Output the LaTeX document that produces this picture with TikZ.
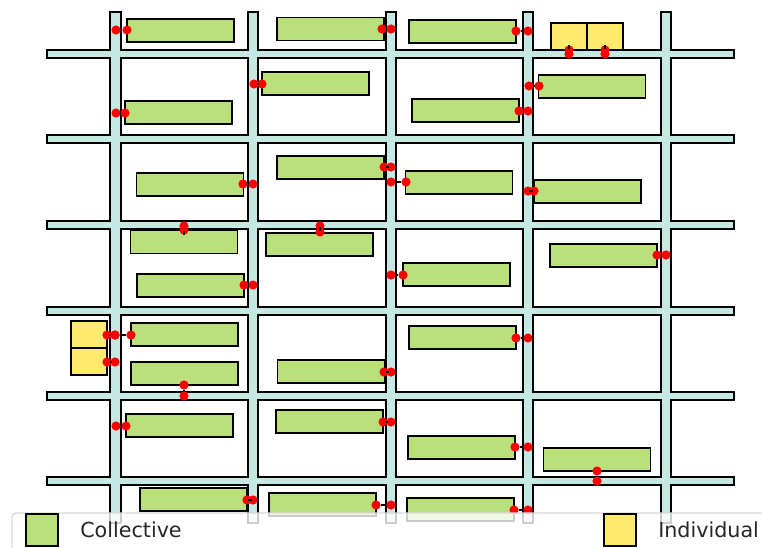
\documentclass[tikz,border=0pt]{standalone}
\usepackage{fontspec}
\setmainfont{DejaVu Sans}
\usetikzlibrary{positioning}
\definecolor{roadteal}{RGB}{197,232,226}
\definecolor{blockgreen}{RGB}{185,224,122}
\definecolor{blockyellow}{RGB}{255,233,110}
\definecolor{doorred}{RGB}{255,0,0}
\begin{document}
\begin{tikzpicture}[
  x=0.75pt, y=-0.75pt,
  roadedge/.style={draw=black, line width=3pt},
  roadfill/.style={fill=roadteal},
  collective/.style={draw=black, fill=blockgreen, line width=1.4pt, outer sep=0pt,
                     inner sep=0pt, minimum width=80.25pt, minimum height=17.25pt},
  individual/.style={draw=black, fill=blockyellow, line width=1.4pt, outer sep=0pt,
                     inner sep=0pt, minimum width=27pt, minimum height=20.25pt},
  door/.style={circle, fill=doorred, inner sep=0pt, outer sep=0pt, minimum size=6.9pt},
  link/.style={draw=black, line width=0.9pt},
  swatch/.style={draw=black, line width=1.4pt, outer sep=0pt, inner sep=0pt, minimum size=24pt},
  legtext/.style={font=\fontsize{15.5}{18}\selectfont, text=black!85, inner sep=0pt, anchor=west}
]
\useasboundingbox (0,0) rectangle (762,547);

% Roads
\foreach \yr in {54,139,225,311,396,481}
  \draw[roadedge] (48,\yr-3.4) rectangle (733,\yr+3.4);
\foreach \xr in {115.5,253,391,528,666}
  \draw[roadedge] (\xr-4.4,13) rectangle (\xr+4.4,522);
\foreach \yr in {54,139,225,311,396,481}
  \fill[roadfill] (48,\yr-3.4) rectangle (733,\yr+3.4);
\foreach \xr in {115.5,253,391,528,666}
  \fill[roadfill] (\xr-4.4,13) rectangle (\xr+4.4,522);

% Buildings
\foreach \idx/\xc/\yc in {
  1/180.5/30.5, 2/330.5/29, 3/462.5/31.5,
  4/178.5/112.5, 5/315.5/83.5, 6/465.5/110.5, 7/592/86.5,
  8/190/184.5, 9/330.5/167.5, 10/459/182.5, 11/587.5/191.5,
  12/184/242, 13/319.5/244.5, 14/190.5/285.5, 15/456.5/274.5, 16/603.5/255.5,
  17/184.5/334.5, 18/184.5/373.5, 19/331/371.5, 20/462.5/337.5,
  21/179.5/425.5, 22/329.5/421.5, 23/461.5/447.5, 24/597/459.5,
  25/193.5/499.5, 26/322.5/504.5, 27/460.5/509.5}
  \node[collective] (coll\idx) at (\xc,\yc) {};
\foreach \idx/\xc/\yc in {1/569/36.5, 2/605/36.5, 3/89/334.5, 4/89/361.5}
  \node[individual] (indiv\idx) at (\xc,\yc) {};

% Doors and their links to the road
\foreach \idx/\xa/\ya/\xb/\yb in {
  1/127/30/116/30, 2/382/29/391/29, 3/516/31/528/31,
  4/569/50/569/54, 5/605/50/605/54,
  6/262/84/254/84, 7/125/113/116/113, 8/539/86/529/86, 9/519/111/528/111,
  10/243/184/253/184, 11/384/167/391/167, 12/406/182/391/182, 13/534/191/528/191,
  14/184/230/184/226, 15/320/232/320/226, 16/244/285/253/285, 17/403/275/391/275,
  18/657/255/666/255, 19/107/335/115/335, 20/131/335/115/335, 21/107/362/115/362,
  22/184/385/184/396, 23/384/372/391/372, 24/516/338/528/338,
  25/126/426/116/426, 26/383/422/391/422, 27/515/447/528/447, 28/597/471/597/481,
  29/247/500/253/500, 30/376/505/391/505, 31/514/510/528/510}
{
  \node[door] (doora\idx) at (\xa,\ya) {};
  \node[door] (doorb\idx) at (\xb,\yb) {};
  \draw[link] (doora\idx) -- (doorb\idx);
}

% Legend
\fill[white, fill opacity=0.8] (12,513) rectangle (775,560);
\draw[black!15, line width=1pt, rounded corners=3pt] (775,513) -- (12,513) -- (12,560);
\node[swatch, fill=blockgreen] (legcoll) at (42,530) {};
\node[legtext, right=16.5pt of legcoll] (legcolltext) {Collective};
\node[swatch, fill=blockyellow] (legindiv) at (620,530) {};
\node[legtext, right=16.5pt of legindiv] (legindivtext) {Individual};
\end{tikzpicture}
\end{document}
